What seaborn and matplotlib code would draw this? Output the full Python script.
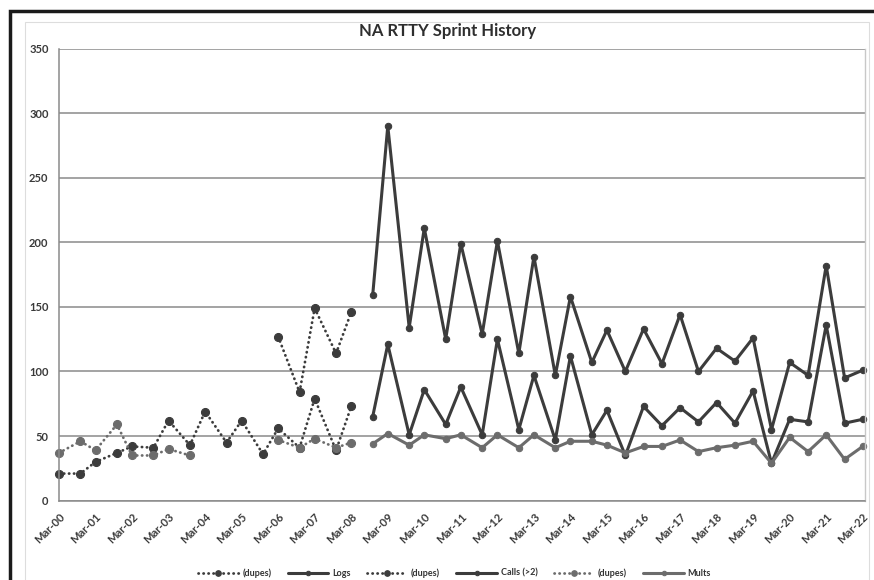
import numpy as np
import pandas as pd
import matplotlib
matplotlib.use('Agg')
import matplotlib.pyplot as plt
import matplotlib.dates as mdates
from matplotlib.patches import Rectangle
import seaborn as sns

nan = np.nan

# sprint dates: spring (Mar) and autumn (Oct, later Sep)
sprint_dates = [
    '2000-03', '2000-10', '2001-03', '2001-10', '2002-03', '2002-10',
    '2003-03', '2003-10', '2004-03', '2004-10', '2005-03', '2005-10',
    '2006-03', '2006-10', '2007-03', '2007-10', '2008-03', '2008-10',
    '2009-03', '2009-10', '2010-03', '2010-10', '2011-03', '2011-10',
    '2012-03', '2012-10', '2013-03', '2013-10', '2014-03', '2014-10',
    '2015-03', '2015-09', '2016-03', '2016-09', '2017-03', '2017-09',
    '2018-03', '2018-09', '2019-03', '2019-09', '2020-03', '2020-09',
    '2021-03', '2021-09', '2022-03',
]

logs_dupes = [nan] * 12 + [127, 84, 149, 114, 146] + [nan] * 28
logs = [nan] * 17 + [159, 290, 134, 211, 125, 199, 129, 201, 114, 189,
                     97, 158, 107, 132, 100, 133, 106, 144, 100, 118,
                     108, 126, 55, 107, 97, 182, 95, 101]
calls_dupes = [21, 21, 30, 37, 42, 41, 62, 43, 69, 45, 62, 36, 56, 41, 79,
               39, 73] + [nan] * 28
calls = [nan] * 17 + [65, 121, 51, 86, 59, 88, 51, 125, 55, 97,
                      47, 112, 51, 70, 35, 73, 58, 72, 61, 76,
                      60, 85, 29, 63, 61, 136, 60, 63]
mults_dupes = [37, 46, 39, 59, 35, 35, 40, 35, nan, nan, nan, nan,
               47, 41, 48, 41, 45] + [nan] * 28
mults = [nan] * 17 + [44, 52, 43, 51, 48, 51, 41, 51, 41, 51,
                      41, 46, 46, 43, 37, 42, 42, 47, 38, 41,
                      43, 46, 29, 49, 38, 51, 32, 42]

df = pd.DataFrame({
    'date': pd.to_datetime(sprint_dates, format='%Y-%m'),
    'logs_dupes': logs_dupes, 'logs': logs,
    'calls_dupes': calls_dupes, 'calls': calls,
    'mults_dupes': mults_dupes, 'mults': mults,
})

dark = '#3c3c3c'
gray = '#6c6c6c'
dots = (0, (0.1, 1.7))
series = [
    ('logs_dupes', '(dupes)', dark, dots, 5.8, 2.0),
    ('logs', 'Logs', dark, '-', 4.6, 2.2),
    ('calls_dupes', '(dupes)', dark, dots, 5.8, 2.0),
    ('calls', 'Calls (>2)', dark, '-', 4.6, 2.2),
    ('mults_dupes', '(dupes)', gray, dots, 5.8, 2.0),
    ('mults', 'Mults', gray, '-', 4.6, 2.2),
]

sns.set_style('white')
plt.rcParams['font.family'] = ['Lato', 'DejaVu Sans']

fig = plt.figure(figsize=(8.74, 5.8), dpi=100)
ax = fig.add_axes([59 / 874, 1 - 500.7 / 580, 806 / 874, 452.2 / 580])

handles = []
for col, label, color, ls, ms, lw in series:
    sub = df[['date', col]].copy()
    sub['seg'] = sub[col].isna().cumsum()
    sub = sub.dropna()
    sns.lineplot(data=sub, x='date', y=col, units='seg', estimator=None,
                 ax=ax, color=color, linestyle=ls, linewidth=lw,
                 dash_capstyle='round', marker='o', markersize=ms,
                 markeredgecolor=color, markerfacecolor=color,
                 clip_on=False, legend=False)
    handles.append((ax.lines[-1], label))

ax.set(xlabel='', ylabel='')
ax.set_ylim(0, 350)
ax.set_yticks(range(0, 351, 50))
ax.set_xlim(pd.Timestamp('2000-03-01'), pd.Timestamp('2022-03-24'))
ax.xaxis.set_major_locator(mdates.MonthLocator(bymonth=3))
ax.xaxis.set_major_formatter(mdates.DateFormatter('%b-%y'))

ax.yaxis.grid(True, color='#8a8a8a', linewidth=1.1)
ax.set_axisbelow(True)
for side in ['left', 'bottom']:
    ax.spines[side].set_color('#8a8a8a')
    ax.spines[side].set_linewidth(1.1)
ax.spines['top'].set_visible(False)
ax.spines['right'].set_color('#c8c8c8')
ax.spines['right'].set_linewidth(1.0)

ax.tick_params(axis='both', which='major', direction='out', length=4,
               width=1, color='#8a8a8a', labelsize=8, labelcolor='#3a3a3a')
for t in ax.get_yticklabels():
    t.set_fontweight('bold')
for t in ax.get_xticklabels():
    t.set_fontweight('bold')
    t.set_rotation(45)
    t.set_ha('right')
    t.set_rotation_mode('anchor')

fig.text(0.512, 0.946, 'NA RTTY Sprint History', ha='center', va='center',
         fontsize=12, fontweight='bold', color='#2e2e2e')

fig.legend([h for h, _ in handles], [l for _, l in handles], loc='center',
           bbox_to_anchor=(0.52, 0.012), ncol=6, frameon=False,
           prop={'size': 6.5, 'weight': 'bold'}, labelcolor='#333333',
           handlelength=4.5, columnspacing=1.8, handletextpad=0.4,
           markerscale=0.7)

# chart frame
fig.patches.append(Rectangle((10 / 874, -0.1), 1.0, 1.1 - 11 / 580,
                             transform=fig.transFigure, fill=False,
                             edgecolor='#1a1a1a', linewidth=2.5))
fig.patches.append(Rectangle((25 / 874, -0.1), 844 / 874, 1.1 - 22 / 580,
                             transform=fig.transFigure, fill=False,
                             edgecolor='#dddddd', linewidth=0.8))

fig.savefig('out.png', dpi=100)
